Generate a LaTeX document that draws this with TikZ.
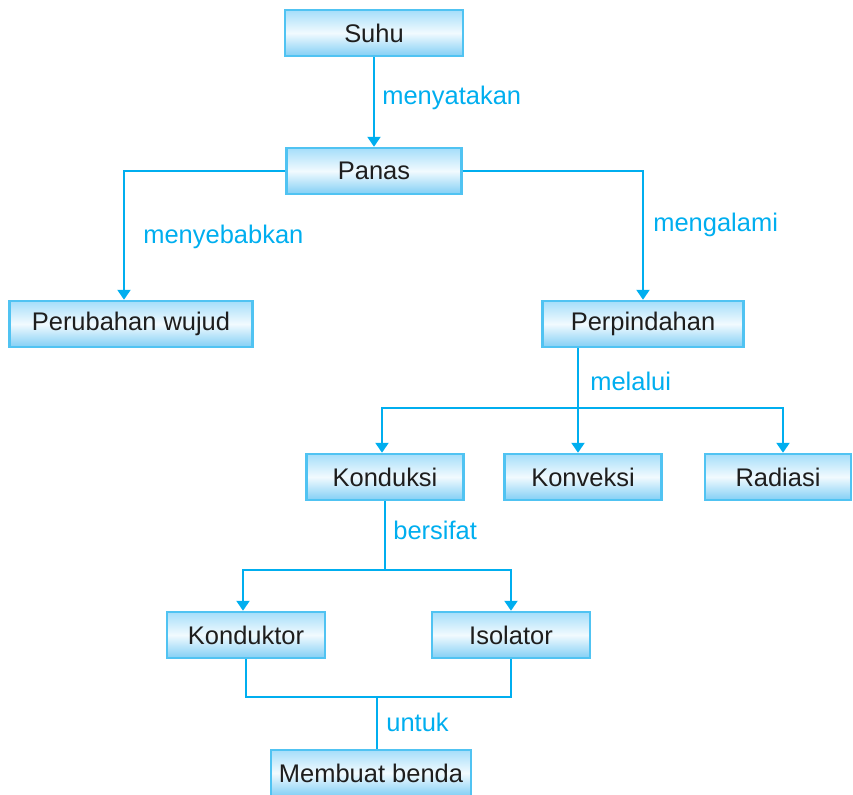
\documentclass[tikz,border=0pt]{standalone}
\usepackage{fontspec}
\setmainfont{Liberation Sans}
\usepackage{tikz}
\usetikzlibrary{arrows.meta}
\definecolor{garis}{RGB}{0,174,239}
\definecolor{tepi}{RGB}{80,195,242}
\definecolor{atas}{RGB}{165,222,250}
\definecolor{bawah}{RGB}{130,207,245}
\definecolor{teks}{RGB}{30,30,30}
\tikzset{
	kotak/.style={draw=tepi, line width=1.4pt, top color=atas, bottom color=bawah, middle color=white!85!atas,
		minimum height=0.92cm, inner sep=0pt, text=teks, font=\fontsize{14.5}{16}\selectfont},
	hubung/.style={draw=garis, line width=1.2pt},
	label/.style={anchor=west, inner sep=0pt, text=garis, font=\fontsize{14.5}{16}\selectfont}
}
\begin{document}
\begin{tikzpicture}[x=0.02cm, y=-0.02cm, >={Triangle[length=0.2cm,width=0.26cm]}]
		\useasboundingbox (0,0) rectangle (853,795);
		%Kotak
		\node [kotak, minimum width=3.56cm] (suhu) at (374,33) {Suhu};
		\node [kotak, minimum width=3.50cm] (panas) at (374,171) {Panas};
		\node [kotak, minimum width=4.86cm] (wujud) at (131,324) {Perubahan wujud};
		\node [kotak, minimum width=4.02cm] (pindah) at (643,324) {Perpindahan};
		\node [kotak, minimum width=3.14cm] (konduksi) at (385,477) {Konduksi};
		\node [kotak, minimum width=3.14cm] (konveksi) at (583,477) {Konveksi};
		\node [kotak, minimum width=2.92cm] (radiasi) at (778,477) {Radiasi};
		\node [kotak, minimum width=3.16cm] (konduktor) at (246,635) {Konduktor};
		\node [kotak, minimum width=3.16cm] (isolator) at (511,635) {Isolator};
		\node [kotak, minimum width=4.00cm] (benda) at (371,773) {Membuat benda};
		%Titik cabang
		\coordinate (cabang1) at (578,408);
		\coordinate (cabang2) at (385,570);
		\coordinate (gabung) at (377,697);
		%Garis
		\draw [hubung, ->] (suhu) -- (panas);
		\draw [hubung, ->] (panas.west) -| ([xshift=-0.14cm]wujud.north);
		\draw [hubung, ->] (panas.east) -| (pindah.north);
		\draw [hubung] (pindah.south -| cabang1) -- (cabang1);
		\draw [hubung, ->] (cabang1) -| ([xshift=-0.06cm]konduksi.north);
		\draw [hubung, ->] (cabang1) -- (cabang1 |- konveksi.north);
		\draw [hubung, ->] (cabang1) -| ([xshift=0.1cm]radiasi.north);
		\draw [hubung] (konduksi.south) -- (cabang2);
		\draw [hubung, ->] (cabang2) -| ([xshift=-0.06cm]konduktor.north);
		\draw [hubung, ->] (cabang2) -| (isolator.north);
		\draw [hubung] (konduktor.south) |- (gabung) -| (isolator.south);
		\draw [hubung] (gabung) -- (gabung |- benda.north);
		%Keterangan
		\node [label] (l1) at (382,98) {menyatakan};
		\node [label] (l2) at (143,237) {menyebabkan};
		\node [label] (l3) at (653,225) {mengalami};
		\node [label] (l4) at (590,381) {melalui};
		\node [label] (l5) at (393,530) {bersifat};
		\node [label] (l6) at (386,722) {untuk};
	\end{tikzpicture}
\end{document}
